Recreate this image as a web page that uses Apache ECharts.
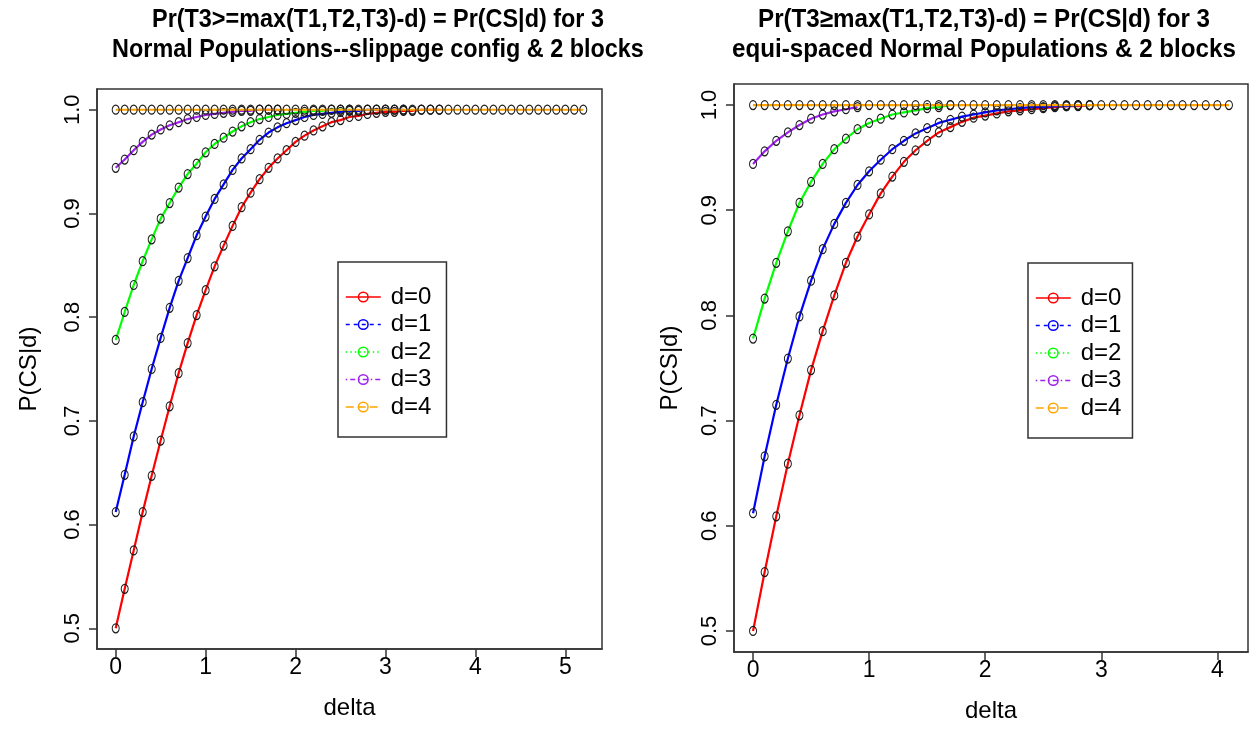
<!DOCTYPE html>
<html>
<head>
<meta charset="utf-8">
<script src="https://cdn.jsdelivr.net/npm/echarts@6/dist/echarts.min.js"></script>
<style>
html,body{margin:0;padding:0;background:#fff;}
#chart{width:1260px;height:738px;}
</style>
</head>
<body>
<div id="chart"></div>
<script>
// ---------- data ----------
const titleLeftLines = ['Pr(T3>=max(T1,T2,T3)-d) = Pr(CS|d) for 3', 'Normal Populations--slippage config & 2 blocks'];
const titleRightLines = ['Pr(T3\u2265max(T1,T2,T3)-d) = Pr(CS|d) for 3', 'equi-spaced Normal Populations & 2 blocks'];
const seriesNames = ['d=0', 'd=1', 'd=2', 'd=3', 'd=4'];
const xTicksLeft = [0, 1, 2, 3, 4, 5];
const xTicksRight = [0, 1, 2, 3, 4];
const yTicks = [0.5, 0.6, 0.7, 0.8, 0.9, 1.0];

const deltaLeft = [0.0,0.1,0.2,0.3,0.4,0.5,0.6,0.7,0.8,0.9,1.0,1.1,1.2,1.3,1.4,1.5,1.6,1.7,1.8,1.9,
  2.0,2.1,2.2,2.3,2.4,2.5,2.6,2.7,2.8,2.9,3.0,3.1,3.2,3.3,3.4,3.5,3.6,3.7,3.8,3.9,
  4.0,4.1,4.2,4.3,4.4,4.5,4.6,4.7,4.8,4.9,5.0,5.1,5.2];
const deltaRight = [0.0,0.1,0.2,0.3,0.4,0.5,0.6,0.7,0.8,0.9,1.0,1.1,1.2,1.3,1.4,1.5,1.6,1.7,1.8,1.9,
  2.0,2.1,2.2,2.3,2.4,2.5,2.6,2.7,2.8,2.9,3.0,3.1,3.2,3.3,3.4,3.5,3.6,3.7,3.8,3.9,
  4.0,4.1];

// slippage configuration (left panel)
const slipD0 = [0.500,0.538,0.575,0.612,0.647,0.681,0.714,0.746,0.775,0.802,0.826,0.849,0.869,0.888,0.906,0.920,0.933,0.944,0.953,0.961,
  0.969,0.975,0.980,0.984,0.988,0.990,0.993,0.994,0.996,0.997,0.998,0.998,0.999,0.999,1.000,1.000,1.000];
const slipD1 = [0.612,0.648,0.685,0.718,0.750,0.780,0.809,0.835,0.857,0.879,0.897,0.914,0.928,0.942,0.953,0.962,0.971,0.978,0.983,0.987,
  0.990,0.993,0.995,0.996,0.997,0.998,0.999,0.999,1.000,1.000,1.000,1.000,1.000];
const slipD2 = [0.778,0.805,0.831,0.854,0.875,0.895,0.910,0.925,0.938,0.948,0.959,0.967,0.973,0.979,0.984,0.988,0.991,0.993,0.995,0.996,
  0.997,0.998,0.999,0.999,1.000,1.000,1.000];
const slipD3 = [0.944,0.952,0.961,0.969,0.976,0.981,0.985,0.988,0.991,0.993,0.995,0.996,0.997,0.998,0.999,0.999,1.000,1.000,1.000];
const slipD4 = [1,1,1,1,1,1,1,1,1,1,1,1,1,1,1,1,1,1,1,1,1,1,1,1,1,1,1,1,1,1,1,1,1,1,1,1,1,1,1,1,1,1,1,1,1,1,1,1,1,1,1,1,1];

// equi-spaced configuration (right panel)
const equiD0 = [0.500,0.556,0.609,0.659,0.705,0.748,0.785,0.819,0.850,0.875,0.896,0.916,0.932,0.946,0.957,0.966,0.974,0.979,0.984,0.988,
  0.990,0.992,0.994,0.995,0.996,0.997,0.998,0.999,0.999,1.000];
const equiD1 = [0.612,0.666,0.715,0.759,0.799,0.833,0.863,0.887,0.907,0.924,0.937,0.948,0.958,0.966,0.973,0.978,0.983,0.986,0.989,0.991,
  0.993,0.995,0.996,0.997,0.998,0.998,0.999,0.999,1.000,1.000];
const equiD2 = [0.778,0.816,0.850,0.880,0.907,0.927,0.944,0.958,0.968,0.977,0.983,0.987,0.991,0.993,0.995,0.997,0.998,1.000];
const equiD3 = [0.944,0.956,0.966,0.974,0.981,0.987,0.991,0.994,0.996,0.998];
const equiD4 = [1,1,1,1,1,1,1,1,1,1,1,1,1,1,1,1,1,1,1,1,1,1,1,1,1,1,1,1,1,1,1,1,1,1,1,1,1,1,1,1,1,1];

// ---------- styling ----------
const colors = ['#FF0000', '#0000FF', '#00FF00', '#A020F0', '#FFA500'];
const legendDash = ['solid', [4, 4], [1.5, 3], [1.5, 3, 5, 3], [8, 4]];
const FONT = '"Liberation Sans", Arial, Helvetica, sans-serif';

function pairs(xs, ys) { return ys.map((v, i) => [xs[i], v]); }

function makeSeries(gridIdx, xs, arrs) {
  return arrs.map((ys, i) => ({
    name: seriesNames[i],
    type: 'line',
    xAxisIndex: gridIdx,
    yAxisIndex: gridIdx,
    data: pairs(xs, ys),
    smooth: false,
    symbol: 'circle',
    symbolSize: [7, 9],
    showSymbol: true,
    lineStyle: { color: colors[i], width: 2.2 },
    itemStyle: { color: 'rgba(0,0,0,0)', borderColor: '#1a1a1a', borderWidth: 1.1 },
    emphasis: { disabled: true },
    animation: false,
    z: 2 + i
  }));
}

function makeLegend(left, top, padRight) {
  return {
    orient: 'vertical',
    left: left, top: top,
    backgroundColor: '#fff',
    borderColor: '#333', borderWidth: 1.5,
    padding: [23, padRight, 18, 7],
    itemWidth: 35, itemHeight: 12,
    itemGap: 3.5,
    selectedMode: false,
    textStyle: { fontFamily: FONT, fontSize: 24, color: '#000', lineHeight: 22, padding: [0, 0, 0, 5] },
    data: seriesNames.map((n, i) => ({
      name: n,
      itemStyle: { color: 'rgba(0,0,0,0)', borderColor: colors[i], borderWidth: 1.5 },
      lineStyle: { color: colors[i], type: legendDash[i], width: 1.5 }
    }))
  };
}

function xAxisDef(gridIdx, min, max, ticks) {
  return {
    type: 'value', gridIndex: gridIdx, min: min, max: max,
    name: 'delta', nameLocation: 'middle', nameGap: 47,
    nameTextStyle: { fontFamily: FONT, fontSize: 24, color: '#000' },
    axisLine: { show: true, onZero: false, lineStyle: { color: '#333', width: 1.5 } },
    axisTick: { show: true, inside: false, length: 8, lineStyle: { color: '#333', width: 1.5 }, customValues: ticks },
    axisLabel: { fontFamily: FONT, fontSize: 23, color: '#000', margin: 7, customValues: ticks },
    splitLine: { show: false }
  };
}
function yAxisDef(gridIdx, ticks, gap) {
  return {
    type: 'value', gridIndex: gridIdx, min: 0.48, max: 1.02,
    name: 'P(CS|d)', nameLocation: 'middle', nameGap: gap,
    nameTextStyle: { fontFamily: FONT, fontSize: 24, color: '#000' },
    axisLine: { show: true, onZero: false, lineStyle: { color: '#333', width: 1.5 } },
    axisTick: { show: true, inside: false, length: 8, lineStyle: { color: '#333', width: 1.5 }, customValues: ticks },
    axisLabel: { fontFamily: FONT, fontSize: 22, color: '#000', margin: 13, rotate: 90,
      customValues: ticks, formatter: v => v.toFixed(1) },
    splitLine: { show: false }
  };
}

function titleText(lines, cx, sx) {
  return {
    type: 'text', x: cx, y: 5, scaleX: sx,
    style: {
      text: lines.join('\n'),
      fontFamily: FONT, fontWeight: 'bold', fontSize: 26, lineHeight: 30,
      fill: '#000', align: 'center', verticalAlign: 'top'
    }
  };
}

const chart = echarts.init(document.getElementById('chart'), null, { renderer: 'canvas' });
chart.setOption({
  backgroundColor: '#fff',
  animation: false,
  graphic: [titleText(titleLeftLines, 378, 0.9), titleText(titleRightLines, 984, 0.93)],
  grid: [
    { left: 97, top: 89, width: 505, height: 560, show: true, borderColor: '#333', borderWidth: 1.5, backgroundColor: 'transparent' },
    { left: 734, top: 84, width: 514, height: 568, show: true, borderColor: '#333', borderWidth: 1.5, backgroundColor: 'transparent' }
  ],
  xAxis: [xAxisDef(0, -0.208, 5.408, xTicksLeft), xAxisDef(1, -0.164, 4.264, xTicksRight)],
  yAxis: [yAxisDef(0, yTicks, 56), yAxisDef(1, yTicks, 52)],
  legend: [makeLegend(338, 262, 15), makeLegend(1028, 263, 11)],
  tooltip: { show: false },
  series: [].concat(
    makeSeries(0, deltaLeft, [slipD0, slipD1, slipD2, slipD3, slipD4]),
    makeSeries(1, deltaRight, [equiD0, equiD1, equiD2, equiD3, equiD4])
  )
});
</script>
</body>
</html>
